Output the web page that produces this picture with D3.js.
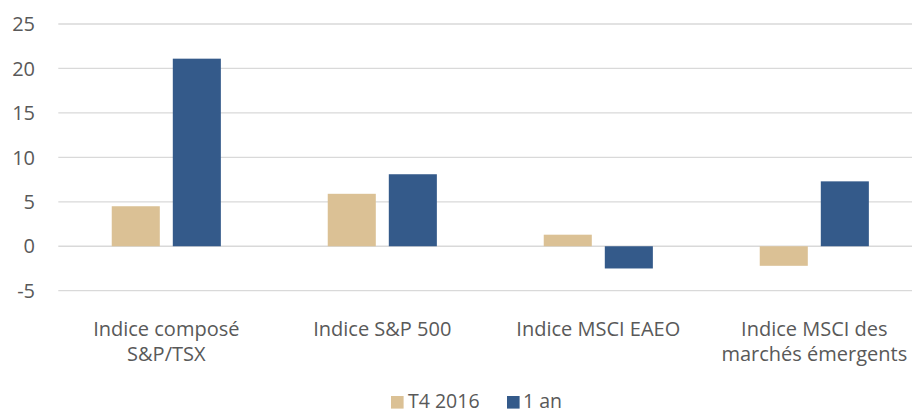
<!DOCTYPE html>
<html><head><meta charset="utf-8">
<script src="https://cdn.jsdelivr.net/npm/d3@7"></script>
<style>body{margin:0;background:#fff}svg{display:block}text{font-family:"Open Sans",sans-serif;fill:#595959}</style>
</head><body><svg id="c" width="912" height="413"></svg>
<script>
const categories = [["Indice composé","S&P/TSX"],["Indice S&P 500"],["Indice MSCI EAEO"],["Indice MSCI des","marchés émergents"]];
const seriesNames = ["T4 2016","1 an"];
const t4 = [4.5, 5.9, 1.3, -2.2];
const an1 = [21.1, 8.1, -2.5, 7.3];
const yTicks = [-5,0,5,10,15,20,25];
const colors = ["#dbc195","#345a8a"];

const svg = d3.select("#c");
const mL = 58.3, mR = 922.3, mT = 24, mB = 290.7;
const x = d3.scaleBand().domain(d3.range(categories.length)).range([mL,mR]);
const y = d3.scaleLinear().domain([-5,25]).range([mB,mT]);

svg.append("g").selectAll("line").data(yTicks).join("line")
  .attr("x1",mL).attr("x2",912).attr("y1",d=>y(d)).attr("y2",d=>y(d))
  .attr("stroke","#d9d9d9").attr("stroke-width",1.3);

svg.append("g").selectAll("text").data(yTicks).join("text")
  .attr("x",35).attr("y",d=>y(d)).attr("dy","0.36em").attr("text-anchor","end")
  .attr("font-size",20).text(d=>d);

const bw = x.bandwidth()*0.2225, gap = 13;
const series = [t4, an1];
series.forEach((vals,si)=>{
  svg.append("g").selectAll("rect").data(vals).join("rect")
    .attr("x",(d,i)=>x(i)+x.bandwidth()/2 + (si===0 ? -gap/2-bw : gap/2))
    .attr("width",bw)
    .attr("y",d=>y(Math.max(0,d)))
    .attr("height",d=>Math.abs(y(d)-y(0)))
    .attr("fill",colors[si]);
});

const lab = svg.append("g");
categories.forEach((lines,i)=>{
  const t = lab.append("text").attr("text-anchor","middle").attr("font-size",20);
  lines.forEach((l,j)=>t.append("tspan").attr("x",x(i)+x.bandwidth()/2).attr("y",336+j*24.5).text(l));
});

const leg = svg.append("g");
const legX = [391, 507], legTextX = [408, 523];
seriesNames.forEach((n,i)=>{
  leg.append("rect").attr("x",legX[i]).attr("y",396).attr("width",12.6).attr("height",12.6).attr("fill",colors[i]);
  leg.append("text").attr("x",legTextX[i]).attr("y",408).attr("font-size",19.5).text(n);
});
</script></body></html>
